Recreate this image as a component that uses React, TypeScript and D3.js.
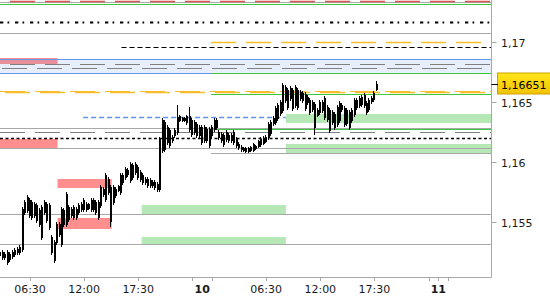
import React from "react";
import * as d3 from "d3";

// ---------- data ----------
const barStartHour = 3.5; // hours since 00:00 of day 9
const barStepHours = 0.25; // 15-minute candles

const opens = [
  1.1522, 1.15253, 1.15203, 1.15253, 1.15186, 1.15212, 1.15228, 1.15245, 1.15245, 1.1527,
  1.15578, 1.15711, 1.15686, 1.15536, 1.15653, 1.15644, 1.15478, 1.1537, 1.15669, 1.15653,
  1.15644, 1.15378, 1.15178, 1.15328, 1.15395, 1.15312, 1.15603, 1.15478, 1.15628, 1.15553,
  1.15628, 1.15536, 1.15578, 1.15653, 1.15603, 1.15653, 1.15611, 1.15686, 1.15603, 1.15669,
  1.15536, 1.15636, 1.15778, 1.15686, 1.15861, 1.15795, 1.15661, 1.1572, 1.15803, 1.15745,
  1.15828, 1.1587, 1.15936, 1.15845, 1.15978, 1.15911, 1.15961, 1.1592, 1.15895, 1.15861,
  1.15861, 1.15803, 1.15836, 1.15836, 1.1577, 1.1577, 1.16095, 1.16336, 1.16161, 1.1627,
  1.16178, 1.1622, 1.16245, 1.16386, 1.16345, 1.1637, 1.16328, 1.16386, 1.16228, 1.16336,
  1.1632, 1.1622, 1.16295, 1.16178, 1.16278, 1.16136, 1.1622, 1.1627, 1.16353, 1.16253,
  1.16178, 1.16228, 1.16186, 1.16228, 1.16178, 1.16253, 1.16195, 1.16153, 1.16128, 1.16095,
  1.1612, 1.16086, 1.16095, 1.16153, 1.16111, 1.16128, 1.16145, 1.16153, 1.1617, 1.16203,
  1.16236, 1.1632, 1.16328, 1.16361, 1.16403, 1.16428, 1.16628, 1.16453, 1.1662, 1.16445,
  1.16628, 1.16453, 1.16586, 1.16578, 1.16445, 1.16545, 1.1652, 1.16503, 1.16486, 1.16386,
  1.16411, 1.16503, 1.16536, 1.16461, 1.16261, 1.1642, 1.16286, 1.16311, 1.16495, 1.16478,
  1.16453, 1.1632, 1.1642, 1.16345, 1.16395, 1.1652, 1.1647, 1.16478, 1.16561, 1.16495,
  1.16436, 1.16503, 1.1652, 1.16603,
];
const highs = [
  1.1527, 1.1527, 1.15253, 1.1527, 1.15253, 1.1527, 1.15287, 1.15295, 1.15312, 1.15628,
  1.15686, 1.15727, 1.15703, 1.15686, 1.15669, 1.15661, 1.15619, 1.15644, 1.15686, 1.15669,
  1.15661, 1.15395, 1.15353, 1.15503, 1.15503, 1.15628, 1.15619, 1.15753, 1.15644, 1.15628,
  1.15644, 1.15628, 1.15661, 1.15669, 1.15703, 1.15669, 1.15661, 1.15703, 1.15703, 1.15686,
  1.15686, 1.15811, 1.15795, 1.15911, 1.15878, 1.15811, 1.15811, 1.15795, 1.15811, 1.15911,
  1.15911, 1.15961, 1.15953, 1.16003, 1.15995, 1.16003, 1.15978, 1.15936, 1.15911, 1.15878,
  1.15878, 1.1587, 1.15853, 1.15853, 1.15836, 1.16211, 1.1637, 1.16353, 1.16311, 1.16286,
  1.16228, 1.16286, 1.16478, 1.16395, 1.16378, 1.16378, 1.16395, 1.16461, 1.1637, 1.16353,
  1.16336, 1.16311, 1.16311, 1.16311, 1.16295, 1.16295, 1.16311, 1.1637, 1.1637, 1.1627,
  1.16253, 1.16245, 1.1627, 1.16245, 1.16245, 1.1627, 1.16211, 1.1617, 1.16145, 1.16128,
  1.16128, 1.16128, 1.16136, 1.16161, 1.16145, 1.16186, 1.16211, 1.1622, 1.16228, 1.16336,
  1.16353, 1.16386, 1.1647, 1.16495, 1.1652, 1.16661, 1.16645, 1.1662, 1.16636, 1.1662,
  1.16645, 1.1662, 1.16603, 1.16595, 1.16586, 1.16561, 1.16536, 1.1652, 1.16503, 1.16453,
  1.1652, 1.1652, 1.16553, 1.16478, 1.16453, 1.16436, 1.1642, 1.16478, 1.16511, 1.16495,
  1.1647, 1.16453, 1.16436, 1.16453, 1.16536, 1.16536, 1.16553, 1.16561, 1.16578, 1.16511,
  1.16536, 1.16553, 1.16595, 1.16678,
];
const lows = [
  1.15203, 1.15186, 1.15186, 1.15144, 1.15169, 1.15195, 1.15212, 1.15228, 1.15228, 1.15253,
  1.15561, 1.15578, 1.15536, 1.1552, 1.15536, 1.15495, 1.15462, 1.15353, 1.15561, 1.15495,
  1.15436, 1.15228, 1.15161, 1.15312, 1.15378, 1.15295, 1.15462, 1.15462, 1.15503, 1.15536,
  1.1552, 1.1552, 1.15561, 1.15586, 1.15586, 1.15586, 1.15603, 1.15586, 1.15586, 1.15561,
  1.1552, 1.15619, 1.15711, 1.15669, 1.15727, 1.15462, 1.15644, 1.15703, 1.15753, 1.15727,
  1.15811, 1.15853, 1.15878, 1.15828, 1.15853, 1.15895, 1.15853, 1.15836, 1.15811, 1.15811,
  1.15786, 1.15786, 1.15786, 1.1577, 1.15753, 1.15753, 1.16078, 1.16086, 1.16145, 1.1612,
  1.16161, 1.16203, 1.16228, 1.16336, 1.16336, 1.16336, 1.16311, 1.16253, 1.16211, 1.16228,
  1.16203, 1.16203, 1.16145, 1.16161, 1.16161, 1.1612, 1.16203, 1.16253, 1.1627, 1.16186,
  1.16161, 1.16128, 1.1617, 1.16161, 1.16161, 1.16145, 1.1612, 1.16103, 1.16086, 1.16086,
  1.16078, 1.16078, 1.16086, 1.16086, 1.16103, 1.1612, 1.16128, 1.16145, 1.16161, 1.16186,
  1.1622, 1.16303, 1.16311, 1.16345, 1.16386, 1.16411, 1.16495, 1.16436, 1.16511, 1.16428,
  1.16453, 1.16436, 1.16511, 1.16495, 1.16428, 1.16478, 1.16395, 1.1642, 1.16228, 1.16378,
  1.16395, 1.16411, 1.16353, 1.16336, 1.16245, 1.16311, 1.1627, 1.16295, 1.16328, 1.1642,
  1.16295, 1.16303, 1.1627, 1.16328, 1.16378, 1.16436, 1.16453, 1.16461, 1.16453, 1.16395,
  1.1642, 1.16486, 1.16503, 1.16595,
];
const closes = [
  1.15253, 1.15203, 1.15237, 1.15161, 1.15237, 1.15253, 1.1527, 1.15278, 1.15295, 1.15611,
  1.15669, 1.15595, 1.15553, 1.15669, 1.15553, 1.15512, 1.15603, 1.15628, 1.15578, 1.15512,
  1.15453, 1.15245, 1.15337, 1.15487, 1.15487, 1.15611, 1.15478, 1.15736, 1.1552, 1.15611,
  1.15536, 1.15611, 1.15644, 1.15603, 1.15686, 1.15603, 1.15653, 1.15603, 1.15686, 1.15578,
  1.15669, 1.15795, 1.15727, 1.15895, 1.15745, 1.15503, 1.15795, 1.15778, 1.15761, 1.15895,
  1.15895, 1.15945, 1.15895, 1.15986, 1.1587, 1.15986, 1.1587, 1.15853, 1.15828, 1.15828,
  1.15803, 1.15853, 1.15803, 1.15786, 1.1582, 1.16195, 1.16353, 1.16103, 1.16295, 1.16136,
  1.16211, 1.1627, 1.16378, 1.16345, 1.1637, 1.16345, 1.16386, 1.1627, 1.16353, 1.16245,
  1.1622, 1.16295, 1.16161, 1.16295, 1.16178, 1.16278, 1.16295, 1.16353, 1.16286, 1.16203,
  1.16236, 1.16145, 1.16253, 1.16178, 1.16228, 1.16161, 1.16136, 1.1612, 1.16103, 1.1612,
  1.16086, 1.1612, 1.16128, 1.16095, 1.16136, 1.16178, 1.16195, 1.16203, 1.16211, 1.1632,
  1.16336, 1.1637, 1.16453, 1.16478, 1.16503, 1.16645, 1.16511, 1.16603, 1.16528, 1.16603,
  1.1647, 1.16603, 1.16528, 1.16511, 1.1657, 1.16495, 1.16411, 1.16436, 1.16286, 1.16436,
  1.16503, 1.16428, 1.1637, 1.16353, 1.16436, 1.16328, 1.16403, 1.16461, 1.16345, 1.16436,
  1.16311, 1.16436, 1.16286, 1.16436, 1.1652, 1.16453, 1.16536, 1.16545, 1.1647, 1.16411,
  1.1652, 1.16536, 1.16578, 1.16651,
];

// horizontal levels (prices)
const grayLevels = [1.17332, 1.17075, 1.16283, 1.16117, 1.15567, 1.15317];
const grayLevelsLate = [1.16078];
const greenLevelFull = [1.1732];
const greenLevelsLate = [1.16742, 1.16567, 1.16275];
const redDashLevels = [1.17342];
const blackDashDotLevels = [1.17172, 1.16205];
const blackDashLevel = 1.16958;
const orangeLevelLate = 1.17;
const orangeDoubleLevels = [1.16597, 1.16586];
const grayDashLevels = [1.16817, 1.16783, 1.1625];
const blueBand = [1.16742, 1.16858];
const blueDashLevel = 1.16375;

// zones: [startHour, endHour, low, high]
const pinkZones = [
  [0, 9.3, 1.16817, 1.16869],
  [0, 9.3, 1.16122, 1.16194],
  [9.3, 14.8, 1.15789, 1.15861],
  [9.3, 14.8, 1.15444, 1.15538],
];
const greenZones = [
  [17.85, 32.5, 1.15569, 1.15644],
  [17.85, 32.5, 1.15319, 1.15377],
  [32.5, 60, 1.1633, 1.16403],
  [32.5, 60, 1.16075, 1.16153],
];

const xTickHours = [6.5, 12, 17.5, 24, 30.5, 36, 41.5, 48];
const xTickLabels = ["06:30", "12:00", "17:30", "10", "06:30", "12:00", "17:30", "11"];
const xTickBold = [false, false, false, true, false, false, false, true];
const xMarkHours = [6.5, 12, 17.5, 23, 25, 30.5, 36, 41.5, 47, 48, 49];
const yTickValues = [1.17, 1.165, 1.16, 1.155];
const yTickLabels = ["1,17", "1,165", "1,16", "1,155"];
const lastPrice = 1.16651;
const lastPriceLabel = "1,16651";

// ---------- layout ----------
const W = 550;
const H = 300;
const PR = 491.5;
const PB = 277.5;
const FONT = "DejaVu Sans, Verdana, sans-serif";

export default function App() {
  const x = d3.scaleLinear().domain([3.4512, 53.4004]).range([0, PR]);
  const y = d3.scaleLinear().domain([1.1504, 1.173525]).range([PB, 0]);
  const cy = (p: number) => Math.round(y(p)) + 0.5;

  const hline = (
    key: string,
    p: number,
    t0: number | null,
    t1: number | null,
    stroke: string,
    sw: number,
    dash?: string,
    offset?: number
  ) => (
    <line
      key={key}
      x1={t0 == null ? 0 : x(t0)}
      x2={t1 == null ? PR : x(t1)}
      y1={cy(p)}
      y2={cy(p)}
      stroke={stroke}
      strokeWidth={sw}
      strokeDasharray={dash}
      strokeDashoffset={offset}
    />
  );

  const zoneRect = (key: string, z: number[], fill: string) => {
    const x0 = Math.max(0, x(z[0]));
    const x1 = Math.min(PR, x(z[1]));
    const yt = Math.round(y(z[3]));
    const yb = Math.round(y(z[2]));
    return <rect key={key} x={x0} y={yt} width={x1 - x0} height={yb - yt} fill={fill} />;
  };

  const candles = opens.map((o, i) => {
    const t = barStartHour + i * barStepHours;
    const cx = x(t);
    const bx = Math.round(cx - 1);
    const c = closes[i];
    const yh = Math.round(y(highs[i]));
    const yl = Math.round(y(lows[i]));
    const yt = Math.round(y(Math.max(o, c)));
    const yb = Math.round(y(Math.min(o, c)));
    return (
      <g key={"c" + i}>
        <rect x={bx} y={yh} width={1} height={Math.max(1, yl - yh)} fill="#000" />
        <rect x={bx} y={yt} width={2} height={Math.max(1, yb - yt)} fill="#000" />
      </g>
    );
  });

  const lp = Math.round(y(lastPrice));

  return (
    <svg
      width={W}
      height={H}
      style={{ position: "absolute", left: 0, top: 0, background: "#fff" }}
      fontFamily={FONT}
    >
      <defs>
        <clipPath id="plot">
          <rect x={0} y={0} width={PR} height={PB} />
        </clipPath>
        <linearGradient id="gold" x1="0" y1="0" x2="0" y2="1">
          <stop offset="0" stopColor="#ffe61a" />
          <stop offset="1" stopColor="#f2c200" />
        </linearGradient>
      </defs>
      <rect x={0} y={0} width={W} height={H} fill="#fff" />
      <g clipPath="url(#plot)">
        {pinkZones.map((z, i) => zoneRect("pz" + i, z, "#ff8f8f"))}
        {greenZones.map((z, i) => zoneRect("gz" + i, z, "#b5e8b5"))}
        {/* blue band */}
        <rect
          x={0}
          y={cy(blueBand[1])}
          width={PR}
          height={cy(blueBand[0]) - cy(blueBand[1])}
          fill="#6495ed"
          fillOpacity={0.15}
        />
        {hline("bb0", blueBand[0], null, null, "#6495ed", 1)}
        {hline("bb1", blueBand[1], null, null, "#6495ed", 1)}
        {grayLevels.map((p, i) => hline("gl" + i, p, null, null, "#a8a8a8", 1))}
        {grayLevelsLate.map((p, i) => hline("gll" + i, p, 24.9, null, "#a8a8a8", 1))}
        {greenLevelFull.map((p, i) => hline("gf" + i, p, null, null, "#3cc83c", 1))}
        {greenLevelsLate.map((p, i) => hline("gn" + i, p, 24.9, null, "#3cc83c", 1))}
        {redDashLevels.map((p, i) => hline("rd" + i, p, null, null, "#d9534f", 1.5, "25,10", 25))}
        {grayDashLevels.map((p, i) =>
          hline("gd" + i, p, null, null, "#808080", 1, "25,10", i === 0 ? 25 : i === 1 ? 33 : 0)
        )}
        {hline("bd0", blackDashDotLevels[0], null, null, "#000", 2, "3.3,4.2,1.7,5.8")}
        {hline("bd1", blackDashDotLevels[1], null, null, "#000", 1.5, "3,2.5")}
        {hline("bdl", blackDashLevel, 15.8, null, "#000", 1.2, "5,3")}
        {hline("ol", orangeLevelLate, 24.9, null, "#fbbc2c", 1.3, "25,10")}
        {hline("od0", orangeDoubleLevels[0], null, null, "#fbbc2c", 1, "25,10", 0)}
        {hline("od1", orangeDoubleLevels[1], null, null, "#fbbc2c", 1.6, "25,10", 30)}
        {hline("bl", blueDashLevel, 11.9, 32.5, "#6495ed", 1.3, "5,3")}
        {candles}
      </g>
      {/* frame */}
      <line x1={PR} x2={PR} y1={0} y2={PB} stroke="#a8a8a8" strokeWidth={1} />
      <line x1={0} x2={PR} y1={PB} y2={PB} stroke="#a8a8a8" strokeWidth={1} />
      {/* y axis */}
      {yTickValues.map((v, i) => (
        <g key={"yt" + i}>
          <line x1={PR} x2={PR + 5} y1={cy(v)} y2={cy(v)} stroke="#a8a8a8" />
          <text x={501} y={cy(v) + 4} fontSize={11} fill="#1a1a1a">
            {yTickLabels[i]}
          </text>
        </g>
      ))}
      {/* last price */}
      <rect x={497.5} y={lp - 11} width={60} height={21} fill="url(#gold)" stroke="#c9a100" />
      <line x1={PR} x2={498} y1={lp + 0.5} y2={lp + 0.5} stroke="#000" />
      <text x={501} y={lp + 4.5} fontSize={11} fill="#000">
        {lastPriceLabel}
      </text>
      {/* x axis */}
      {xMarkHours.map((t, i) => (
        <line
          key={"xm" + i}
          x1={Math.round(x(t)) + 0.5}
          x2={Math.round(x(t)) + 0.5}
          y1={PB}
          y2={PB + 3.5}
          stroke="#a8a8a8"
        />
      ))}
      {xTickHours.map((t, i) => (
        <text
          key={"xl" + i}
          x={x(t)}
          y={293}
          fontSize={11}
          textAnchor="middle"
          fontWeight={xTickBold[i] ? "bold" : "normal"}
          fill="#1a1a1a"
        >
          {xTickLabels[i]}
        </text>
      ))}
    </svg>
  );
}
